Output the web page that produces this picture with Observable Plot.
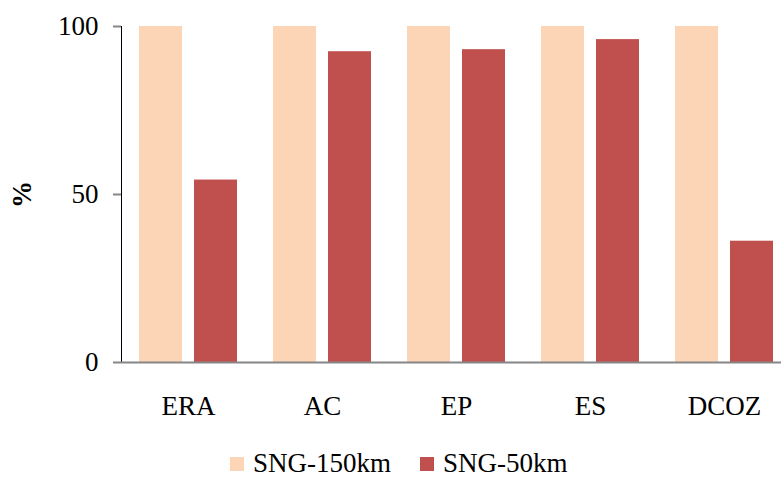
<!DOCTYPE html>
<html>
<head>
<meta charset="utf-8">
<script src="https://cdn.jsdelivr.net/npm/d3@7"></script>
<script src="https://cdn.jsdelivr.net/npm/@observablehq/plot@0.6"></script>
<style>
  html, body { margin: 0; padding: 0; background: #fff; overflow: hidden; width: 781px; height: 480px; }
  #chart { width: 792px; }
  #chart svg { display: block; max-width: none !important; }
  #chart g[aria-label="y-axis tick"] path, #chart g[aria-label="y-axis tick"] line { stroke: #868686; stroke-width: 2px; }
  #chart g[aria-label="y-axis line"] line, #chart g[aria-label="y-axis line"] path { stroke: #868686; stroke-width: 2px; }
  #chart g[aria-label="y-axis label"] text { font-weight: bold; }
  #legend { position: absolute; left: 230px; top: 448px; display: flex; align-items: center;
            font-family: "Liberation Serif", "Times New Roman", serif; font-size: 27px; color: #000; }
  #legend .item { display: flex; align-items: center; margin-right: 29px; }
  #legend .sw { width: 14px; height: 14px; margin-right: 9px; }
</style>
</head>
<body>
<div id="chart"></div>
<div id="legend"></div>
<script>
const categories = ["ERA", "AC", "EP", "ES", "DCOZ"];
const seriesNames = ["SNG-150km", "SNG-50km"];
const sng150 = [100, 100, 100, 100, 100];
const sng50 = [54.3, 92.5, 93.1, 96.1, 36.1];
const seriesColors = ["#FBD5B5", "#C0504D"];
const yTicks = [0, 50, 100];

const data = [];
categories.forEach((c, i) => {
  data.push({cat: c, series: seriesNames[0], value: sng150[i]});
  data.push({cat: c, series: seriesNames[1], value: sng50[i]});
});

const chart = Plot.plot({
  width: 792,
  height: 440,
  marginLeft: 120,
  marginRight: 0,
  marginTop: 26,
  marginBottom: 78,
  style: {fontFamily: "'Liberation Serif', 'Times New Roman', serif", fontSize: "27px", color: "#000", background: "#fff", maxWidth: "none"},
  fx: {domain: categories, padding: 0, axis: "bottom", tickSize: 0, tickPadding: 33, label: null},
  x: {domain: seriesNames, paddingInner: 0.214, paddingOuter: 0.306, axis: null},
  y: {domain: [0, 100], ticks: yTicks, tickSize: 8, tickPadding: 15, line: true, label: "%", labelAnchor: "center", labelOffset: 110, labelArrow: "none"},
  color: {domain: seriesNames, range: seriesColors},
  facet: {data: data, x: "cat"},
  marks: [
    Plot.barY(data, {x: "series", y: "value", fill: "series", inset: 0}),
    Plot.ruleY([0], {stroke: "#868686", strokeWidth: 2})
  ]
});
document.getElementById("chart").appendChild(chart);

const legend = document.getElementById("legend");
seriesNames.forEach((s, i) => {
  const item = document.createElement("div");
  item.className = "item";
  const sw = document.createElement("div");
  sw.className = "sw";
  sw.style.background = seriesColors[i];
  const t = document.createElement("span");
  t.textContent = s;
  item.appendChild(sw);
  item.appendChild(t);
  legend.appendChild(item);
});
</script>
</body>
</html>
